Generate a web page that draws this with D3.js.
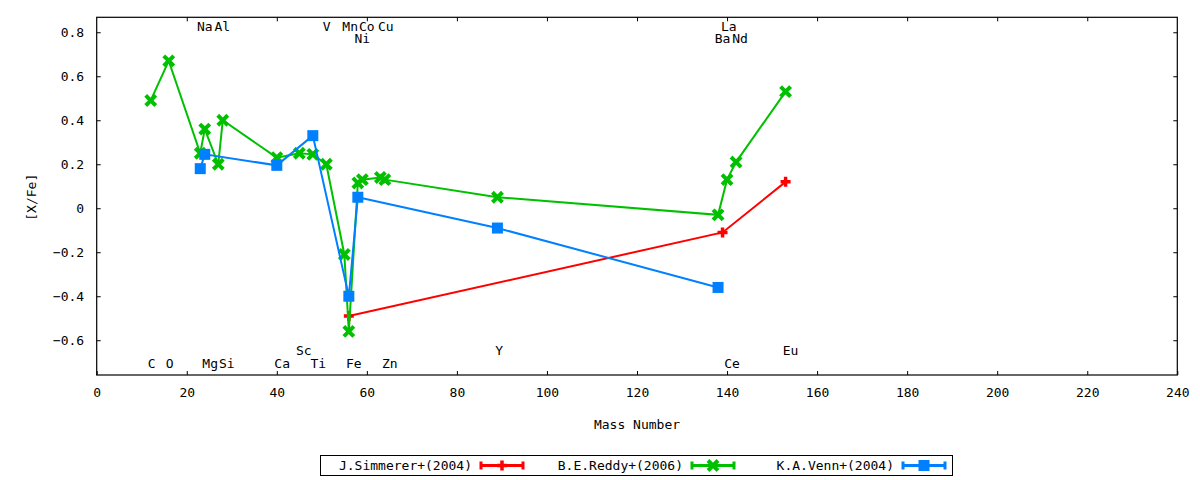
<!DOCTYPE html>
<html>
<head>
<meta charset="utf-8">
<script src="https://cdn.jsdelivr.net/npm/d3@7"></script>
<style>
    body { margin: 0; background: #fff; }
    text { font-family: 'DejaVu Sans Mono', monospace; font-size: 13px; fill: #000; }
</style>
</head>
<body>
<script>
// [X/Fe] vs mass number, three literature sources
const simmererMass = [56, 139, 153];
const simmererXFe = [-0.49, -0.11, 0.12];

const reddyMass = [12, 16, 23, 24, 27, 28, 40, 45, 48, 51, 55, 56, 58, 59, 63, 64, 89, 138, 140, 142, 153];
const reddyXFe = [0.49, 0.67, 0.25, 0.36, 0.20, 0.40, 0.23, 0.25, 0.245, 0.20, -0.21, -0.56, 0.115, 0.13, 0.14, 0.13, 0.05, -0.03, 0.13, 0.21, 0.53];

const vennMass = [23, 24, 40, 48, 56, 58, 89, 138];
const vennXFe = [0.18, 0.245, 0.195, 0.33, -0.40, 0.05, -0.09, -0.36];

const seriesNames = ['J.Simmerer+(2004)', 'B.E.Reddy+(2006)', 'K.A.Venn+(2004)'];

// element labels placed in data coordinates
const elementNames = ['C', 'O', 'Na', 'Al', 'Mg', 'Si', 'Ca', 'Sc', 'Ti', 'V', 'Mn', 'Fe', 'Co', 'Ni', 'Cu', 'Zn', 'Y', 'Ba', 'La', 'Nd', 'Ce', 'Eu'];
const elementX = [12.2, 16.2, 24.0, 27.9, 25.2, 28.9, 41.2, 46.0, 49.2, 51.1, 56.3, 57.1, 60.0, 59.0, 64.2, 65.1, 89.4, 139.0, 140.4, 142.9, 141.1, 154.1];
const elementY = [-0.705, -0.705, 0.825, 0.825, -0.705, -0.705, -0.705, -0.645, -0.705, 0.825, 0.825, -0.705, 0.825, 0.774, 0.825, -0.705, -0.645, 0.774, 0.825, 0.774, -0.705, -0.645];

const xTicks = [0, 20, 40, 60, 80, 100, 120, 140, 160, 180, 200, 220, 240];
const yTicks = [-0.6, -0.4, -0.2, 0, 0.2, 0.4, 0.6, 0.8];

const width = 1200;
const height = 480;
const margin = { top: 17.3, right: 22.7, bottom: 105, left: 96.7 };

const svg = d3.select('body')
    .append('svg')
    .attr('width', width)
    .attr('height', height);

const x = d3.scaleLinear()
    .domain([0, 240])
    .range([margin.left, width - margin.right]);

const y = d3.scaleLinear()
    .domain([-0.758, 0.868])
    .range([height - margin.bottom, margin.top]);

const fmtY = d => d === 0 ? '0' : d3.format('.1f')(d);

// axes, ticks pointing inward like gnuplot
const axisG = svg.append('g');

axisG.append('g')
    .attr('transform', `translate(0,${height - margin.bottom})`)
    .call(d3.axisBottom(x).tickValues(xTicks).tickFormat(d3.format('d')).tickSize(-4).tickPadding(13));

axisG.append('g')
    .attr('transform', `translate(0,${margin.top})`)
    .call(d3.axisTop(x).tickValues(xTicks.slice(1, -1)).tickFormat('').tickSize(-4));

axisG.append('g')
    .attr('transform', `translate(${margin.left},0)`)
    .call(d3.axisLeft(y).tickValues(yTicks).tickFormat(fmtY).tickSize(-4).tickPadding(12.5));

axisG.append('g')
    .attr('transform', `translate(${width - margin.right},0)`)
    .call(d3.axisRight(y).tickValues(yTicks).tickFormat('').tickSize(-4));

axisG.selectAll('.domain').remove();
axisG.selectAll('.tick line').attr('stroke', '#000').attr('stroke-width', 1);
axisG.selectAll('.tick text')
    .attr('font-family', 'DejaVu Sans Mono')
    .attr('font-size', 13)
    .attr('fill', '#000');

svg.append('rect')
    .attr('x', margin.left)
    .attr('y', margin.top)
    .attr('width', width - margin.left - margin.right)
    .attr('height', height - margin.top - margin.bottom)
    .attr('fill', 'none')
    .attr('stroke', '#000')
    .attr('stroke-width', 1.2);

svg.append('text')
    .attr('x', x(120))
    .attr('y', 429)
    .attr('text-anchor', 'middle')
    .text('Mass Number');

svg.append('text')
    .attr('transform', `translate(36,${y(0.05)}) rotate(-90)`)
    .attr('text-anchor', 'middle')
    .text('[X/Fe]');

// element labels
svg.append('g')
    .selectAll('text')
    .data(elementNames.map((n, i) => ({ name: n, mass: elementX[i], v: elementY[i] })))
    .join('text')
    .attr('x', d => x(d.mass))
    .attr('y', d => y(d.v))
    .attr('dy', '0.35em')
    .attr('text-anchor', 'middle')
    .text(d => d.name);

// markers
const plusPath = 'M-5,0H5M0,-5V5';
const crossPath = 'M-3.6,-3.6L3.6,3.6M-3.6,3.6L3.6,-3.6';

const series = [
    { name: seriesNames[0], color: '#ff0000', shape: 'plus', mass: simmererMass, vals: simmererXFe },
    { name: seriesNames[1], color: '#00c000', shape: 'cross', mass: reddyMass, vals: reddyXFe },
    { name: seriesNames[2], color: '#0080ff', shape: 'square', mass: vennMass, vals: vennXFe }
];

const drawMarker = (g, shape, color) => {
    if (shape === 'square') {
        g.append('rect')
            .attr('x', -5.5).attr('y', -5.5)
            .attr('width', 11).attr('height', 11)
            .attr('fill', color);
    } else {
        g.append('path')
            .attr('d', shape === 'plus' ? plusPath : crossPath)
            .attr('stroke', color)
            .attr('stroke-width', shape === 'plus' ? 3.5 : 4)
            .attr('stroke-linecap', shape === 'plus' ? 'butt' : 'square')
            .attr('fill', 'none');
    }
};

const line = d3.line()
    .x(d => x(d[0]))
    .y(d => y(d[1]));

series.forEach(s => {
    const pts = s.mass.map((m, i) => [m, s.vals[i]]);
    const g = svg.append('g');

    g.append('path')
        .datum(pts)
        .attr('d', line)
        .attr('fill', 'none')
        .attr('stroke', s.color)
        .attr('stroke-width', 2);

    g.selectAll('g.pt')
        .data(pts)
        .join('g')
        .attr('class', 'pt')
        .attr('transform', d => `translate(${x(d[0])},${y(d[1])})`)
        .each(function () { drawMarker(d3.select(this), s.shape, s.color); });
});

// legend
const legend = svg.append('g').attr('id', 'legend');

legend.append('rect')
    .attr('x', 320.5)
    .attr('y', 455.5)
    .attr('width', 632)
    .attr('height', 20)
    .attr('fill', 'none')
    .attr('stroke', '#000')
    .attr('stroke-width', 1);

series.forEach((s, i) => {
    const sx = 481 + i * 211;
    const ly = 465.5;
    const item = legend.append('g');

    item.append('text')
        .attr('x', sx - 9)
        .attr('y', ly)
        .attr('dy', '0.35em')
        .attr('text-anchor', 'end')
        .text(s.name);

    item.append('path')
        .attr('d', `M${sx},${ly}H${sx + 42}M${sx},${ly - 4}V${ly + 4}M${sx + 42},${ly - 4}V${ly + 4}`)
        .attr('stroke', s.color)
        .attr('stroke-width', 3)
        .attr('fill', 'none');

    const m = item.append('g').attr('transform', `translate(${sx + 21},${ly})`);
    drawMarker(m, s.shape, s.color);
});
</script>
</body>
</html>
